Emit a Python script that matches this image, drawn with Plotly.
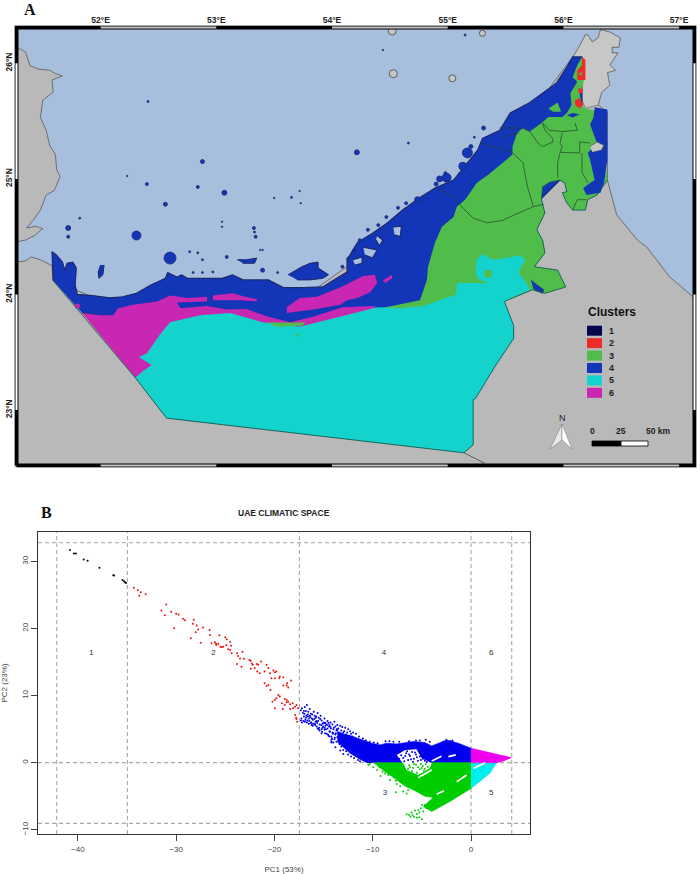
import plotly.graph_objects as go

W, H = 700, 874

# ---------- panel A: geography (lon / lat) ----------
COL = {"sea": "#a7bedc", "land": "#b9b9b9", "mount": "#c7c7c7", "c1": "#05054d", "c2": "#ee2b2b",
       "c3": "#50bd4b", "c4": "#1335b7", "c5": "#13d3cc", "c6": "#c927b1", "coast": "#1b2a6e"}

west_lon = [51.27,51.35,51.39,51.46,51.56,51.61,51.67,51.58,51.59,51.50,51.48,51.53,51.56,51.61,51.62,51.65,51.60,51.53,51.48,51.42,51.36,51.44,51.50,51.43,51.35,51.27]
west_lat = [26.14,26.10,25.98,25.95,25.94,25.91,25.89,25.856,25.75,25.68,25.53,25.42,25.29,25.21,25.08,25.02,24.90,24.86,24.73,24.645,24.575,24.59,24.57,24.51,24.47,24.455]

main_lon = [51.27,51.35,51.40,51.48,51.58,51.59,52.0,52.86,53.72,54.76,55.62,56.08,56.12,56.19,56.21,56.25,56.30,56.32,56.40,56.49,56.48,56.42,56.42,56.47,56.40,56.45,56.38,56.40,56.33,56.30,56.38,56.38,56.46,56.64,56.72,56.92,57.12,57.133,57.133,51.27]
main_lat = [24.28,24.29,24.325,24.30,24.25,24.12,23.95,23.95,23.95,24.69,25.44,26.055,26.115,26.245,26.245,26.185,26.22,26.29,26.27,26.22,26.14,26.14,26.09,26.09,25.985,25.94,25.92,25.81,25.75,25.64,25.58,24.99,24.69,24.47,24.41,24.15,23.98,23.96,22.52,22.52]

mus_lon = [56.08,56.12,56.19,56.21,56.25,56.30,56.32,56.40,56.49,56.48,56.42,56.42,56.47,56.40,56.45,56.38,56.40,56.33,56.30,56.19,56.14,56.16]
mus_lat = [26.055,26.115,26.245,26.245,26.185,26.22,26.29,26.27,26.22,26.14,26.14,26.09,26.09,25.985,25.94,25.92,25.81,25.75,25.64,25.61,25.73,26.0]

blue_lon = [51.59,51.58,51.62,51.67,51.69,51.71,51.76,51.79,51.78,51.80,51.93,52.08,52.19,52.31,52.43,52.56,52.58,52.66,52.70,52.75,52.92,53.05,53.14,53.23,53.45,53.58,53.75,53.92,54.04,54.13,54.13,54.22,54.35,54.48,54.61,54.76,54.89,55.05,55.26,55.30,55.45,55.54,55.71,55.78,55.94,56.03,56.08,56.16,56.16,55.97,54.85,52.86,51.84]
blue_lat = [24.12,24.37,24.34,24.28,24.21,24.27,24.28,24.23,24.08,24.0,23.99,23.97,23.98,24.01,24.08,24.14,24.19,24.15,24.17,24.14,24.14,24.14,24.17,24.126,24.126,24.06,24.06,24.065,24.14,24.195,24.30,24.45,24.53,24.62,24.73,24.84,24.92,24.99,25.25,25.35,25.42,25.57,25.66,25.71,25.83,25.97,26.055,26.055,25.60,24.99,23.87,23.69,23.84]

green_lon = [54.39,54.76,54.82,54.83,54.89,54.95,55.05,55.08,55.15,55.25,55.35,55.48,55.56,55.56,55.60,55.65,55.71,55.81,55.87,55.99,56.03,56.07,56.06,56.12,56.08,56.12,56.16,56.19,56.17,56.14,56.16,56.19,56.32,56.38,56.29,56.21,56.19,56.08,56.03,55.99,56.03,56.01,55.97,55.88,55.82,55.81,55.84,55.77,55.82,55.84,55.75,55.95,56.02,55.84,55.73,55.49,55.02,54.39]
green_lat = [23.875,23.95,24.126,24.24,24.45,24.585,24.67,24.76,24.82,24.965,25.035,25.14,25.21,25.28,25.40,25.44,25.41,25.484,25.535,25.535,25.57,25.64,25.74,25.84,25.88,25.985,26.05,25.96,25.81,25.73,25.64,25.61,25.58,24.99,24.86,24.82,24.73,24.73,24.79,24.88,24.89,24.965,24.99,24.97,24.93,24.82,24.705,24.56,24.47,24.36,24.24,24.21,24.065,24.01,24.04,23.94,23.78,23.78]

cyan_lon = [52.30,52.57,55.14,55.22,55.22,55.24,55.41,55.57,55.57,55.49,55.71,55.68,55.61,55.67,55.62,55.51,55.39,55.30,55.25,55.24,55.26,55.35,55.22,55.08,55.07,54.93,54.79,54.59,54.39,54.16,53.87,53.72,53.40,53.12,52.86,52.60,52.51,52.45,52.40,52.33,52.44,52.37]
cyan_lat = [23.28,22.93,22.63,22.70,23.09,23.10,23.38,23.62,23.73,23.94,24.04,24.10,24.19,24.30,24.34,24.315,24.30,24.35,24.30,24.19,24.135,24.10,24.10,24.10,24.0,23.95,23.90,23.88,23.89,23.83,23.76,23.72,23.76,23.84,23.82,23.76,23.65,23.56,23.49,23.46,23.39,23.34]

mag_main_lon = [51.84,52.0,52.11,52.15,52.28,52.49,52.60,52.75,52.92,52.92,52.66,52.69,52.92,53.09,53.26,53.44,53.64,53.84,54.09,54.37,54.37,52.86,52.30]
mag_main_lat = [23.84,23.82,23.82,23.88,23.91,23.94,23.99,23.97,23.98,23.94,23.93,23.88,23.90,23.87,23.875,23.81,23.76,23.81,23.89,23.90,23.78,23.56,23.28]
mag_band_lon = [53.61,53.72,53.87,54.07,54.27,54.37,54.39,54.33,54.22,54.13,54.07,53.84,53.61]
mag_band_lat = [23.89,23.97,23.98,24.06,24.16,24.17,24.10,24.02,23.97,23.95,23.91,23.87,23.84]
mag_strip_lon = [52.97,53.14,53.25,53.35,53.35,53.20,52.97]
mag_strip_lat = [23.99,24.01,23.98,23.96,23.94,23.95,23.95]
mag_spot_lon = [54.44,54.52,54.52,54.46]
mag_spot_lat = [24.12,24.17,24.14,24.10]

red1_lon = [56.16,56.19,56.19,56.12,56.12,56.16]
red1_lat = [26.055,26.03,25.856,25.856,25.94,25.98]
red2_lon = [56.13,56.17,56.16,56.13]
red2_lat = [25.79,25.77,25.74,25.74]
red3_lon = [56.10,56.14,56.17,56.14,56.10]
red3_lat = [25.68,25.70,25.64,25.61,25.64]

east_lon = [56.27,56.38,56.38,56.38,56.35,56.32,56.20,56.17,56.23,56.27,56.23,56.21,56.29,56.26,56.23,56.26]
east_lat = [25.62,25.60,25.40,25.165,24.965,24.88,24.86,24.92,24.965,24.99,25.165,25.225,25.31,25.40,25.47,25.53]
notch_lon = [56.03,56.08,56.14,56.08]
notch_lat = [25.55,25.57,25.56,25.53]
hatta_lon = [55.72,55.75,55.83,55.82,55.74]
hatta_lat = [24.126,24.10,24.04,24.01,24.05]
gpatch_lon = [55.87,55.95,55.98,55.91]
gpatch_lat = [25.61,25.66,25.58,25.58]
gsouth_lon = [53.44,53.52,53.74,53.77,53.65]
gsouth_lat = [23.76,23.72,23.73,23.76,23.755]
encl_lon = [56.23,56.29,56.35,56.33,56.25]
encl_lat = [25.28,25.32,25.29,25.25,25.23]

lagoon_lons = [[54.27,54.39,54.35,54.285],[54.18,54.26,54.26,54.2],[54.39,54.44,54.41,54.38],[54.53,54.60,54.59,54.54]]
lagoon_lats = [[24.41,24.385,24.315,24.34],[24.30,24.325,24.27,24.255],[24.51,24.47,24.42,24.47],[24.585,24.59,24.50,24.515]]
island_lons = [[53.62,53.74,53.81,53.88,53.88,53.97,53.92,53.81,53.70],[53.18,53.26,53.35,53.33,53.23],[52.03,52.02,51.985,51.98,52.0]]
island_lats = [[24.17,24.24,24.27,24.28,24.23,24.17,24.14,24.126,24.126],[24.30,24.30,24.315,24.27,24.27],[24.255,24.17,24.14,24.195,24.255]]

isle_lon = [52.88,52.84,53.07,52.40,52.56,51.72,51.72,52.31,52.60,51.82,52.23,53.65,53.50,53.72,53.73,53.05,53.05,53.325,53.34,53.33,54.215,55.23,54.66,55.17,55.13,54.99,54.93,54.90,54.74,52.77,52.84,53.09,52.88,53.40,51.99,53.38,53.40,53.53,52.41,55.15,54.44,52.80,52.88,52.97,54.09,54.14,54.19,54.24,54.31,54.40,54.47,54.57,54.64,54.98,55.20,55.31]
isle_lat = [25.15,24.93,24.88,24.955,24.78,24.575,24.50,24.51,24.315,24.66,25.025,24.84,24.835,24.895,24.79,24.63,24.585,24.575,24.50,24.54,25.23,25.36,25.31,25.225,25.11,25.01,25.0,24.955,24.82,24.37,24.36,24.325,24.30,24.21,24.195,24.385,24.385,24.19,25.67,26.245,26.115,24.19,24.19,24.195,24.24,24.31,24.38,24.47,24.56,24.60,24.67,24.75,24.79,25.05,25.28,25.44]
isle_size = [4,3,5,3,4,5,3,9,12,2,1.5,2,1.5,1.5,1.5,1.5,1.5,3,3,2,5,2,2,10,8,9,6,4,6,2,2,3,2,4,2,1.5,1.5,2,2,2,1.5,2,2,2,3,3,3,3,3,3,3,3,3,3,4,4]
grey_isle_lon = [54.52,55.30,54.53,55.04]
grey_isle_lat = [26.28,26.26,25.91,25.87]
grey_isle_size = [8,6,8,7]

border_lon = [51.59,52.30,52.57,55.14,55.22,55.22,55.24,55.41,55.57,55.57,55.49,55.73,55.84,56.02,55.95,55.75,55.84,55.82,55.77,55.84,55.81,55.82,55.88,55.97,56.01,56.03,55.99,56.03,56.08,56.19,56.21,56.29,56.38]
border_lat = [24.12,23.28,22.93,22.63,22.70,23.09,23.10,23.38,23.62,23.73,23.94,24.04,24.01,24.065,24.21,24.24,24.36,24.47,24.56,24.705,24.82,24.93,24.97,24.99,24.965,24.89,24.88,24.79,24.73,24.73,24.82,24.86,24.99]

emirate_lon = [54.92,55.05,55.12,55.22,55.34,55.47,55.58,55.74,55.83,None,55.555,55.65,55.69,55.74,None,55.28,55.555,None,55.48,55.62,None,55.45,55.64,None,55.64,55.71,55.78,55.82,55.91,55.90,55.84,55.82,None,55.82,55.88,55.99,56.12,56.10,None,55.99,55.97,55.99,55.97,56.14,56.14,56.23,None,55.97,55.95,55.95,None,56.16,56.16,56.21,None,56.08,56.12,56.20,None,55.14,55.32]
emirate_lat = [24.92,24.84,24.76,24.66,24.62,24.64,24.69,24.76,24.78,None,25.23,25.14,24.93,24.76,None,25.31,25.23,None,25.36,25.40,None,25.44,25.44,None,25.44,25.41,25.31,25.28,25.32,25.36,25.42,25.484,None,25.484,25.42,25.41,25.42,25.484,None,25.40,25.31,25.28,25.23,25.225,25.32,25.31,None,25.225,25.14,25.01,None,25.225,25.06,24.965,None,24.73,24.82,24.82,None,22.63,22.54]

lon_ticks = [52, 53, 54, 55, 56, 57]
lat_ticks = [23, 24, 25, 26]
lon_labels = ["52°E", "53°E", "54°E", "55°E", "56°E", "57°E"]
lat_labels = ["23°N", "24°N", "25°N", "26°N"]

cluster_names = ["1", "2", "3", "4", "5", "6"]
cluster_colors = [COL["c1"], COL["c2"], COL["c3"], COL["c4"], COL["c5"], COL["c6"]]

# ---------- panel B: PCA space ----------
black_x = [-40.8,-40.4,-40.2,-39.4,-39.0,-37.8,-36.4,-36.3,-35.45,-35.2,-35.1,-35.3]
black_y = [31.7,31.2,31.2,30.3,30.1,29.05,27.95,27.9,27.25,26.9,26.8,27.05]

red_x = [-34.3,-33.9,-33.6,-33.75,-33.1,-31.5,-31.15,-31.0,-30.5,-30.0,-29.75,-30.2,-29.3,-29.1,-28.5,-28.2,-28.3,-27.9,-27.75,-28.0,-27.25,-27.5,-26.6,-26.55,-26.4,-26.05,-25.95,-25.9,-25.7,-25.5,-25.35,-25.2,-24.9,-25.6,-25.0,-24.85,-24.5,-24.4,-24.7,-24.35,-24.5,-23.8,-23.7,-23.25,-23.5,-23.8,-23.35,-23.1,-22.55,-22.4,-22.3,-22.2,-22.4,-21.8,-21.65,-21.35,-22.0,-21.75,-21.5,-21.0,-20.8,-20.6,-20.45,-20.1,-19.95,-19.8,-20.3,-19.95,-19.45,-19.1,-19.5,-19.1,-18.75,-18.3,-18.7,-18.6,-21.0,-20.6,-20.8,-20.4,-19.6,-19.8,-19.95,-19.45,-18.95,-18.75,-18.6,-18.4,-18.15,-17.9,-17.75,-19.25,-18.95,-18.75,-19.95,-19.15,-18.4,-18.1,-17.8,-17.9,-17.6,-17.7,-17.75,-20.2]
red_y = [26.1,25.7,25.4,24.9,25.1,22.7,22.0,23.6,22.5,22.2,22.1,20.05,21.45,21.25,18.55,21.3,20.7,20.45,19.85,19.45,20.15,17.9,19.8,19.05,17.8,17.95,17.75,17.55,17.7,17.3,17.2,17.3,17.5,19.0,18.7,18.4,18.05,17.45,16.9,16.3,16.8,16.3,15.9,16.55,15.55,14.7,14.3,15.5,15.3,15.2,14.8,14.6,14.0,14.7,14.6,15.1,14.1,13.6,13.35,13.6,14.6,14.1,13.35,13.75,13.5,13.6,12.6,12.6,12.85,12.75,12.6,11.5,11.5,12.25,11.85,11.2,11.85,11.6,11.45,10.85,10.1,9.6,9.35,9.85,9.5,9.35,9.1,8.7,8.85,8.35,8.6,8.85,8.6,9.0,8.1,8.0,8.0,8.1,6.7,7.1,8.1,6.1,6.5,9.1]

blue_pt_x = [-17.3,-17.2,-17.1,-17.0,-17.3,-17.2,-16.9,-16.8,-16.7,-16.6,-16.9,-16.7,-16.5,-16.4,-16.3,-16.5,-16.3,-16.1,-16.0,-15.9,-16.1,-15.9,-15.7,-15.6,-15.5,-15.7,-15.4,-15.3,-15.2,-15.4,-15.1,-15.0,-14.9,-14.9,-14.8,-14.7,-14.6,-14.6,-14.5,-14.4,-14.3,-14.3,-14.2,-14.1,-14.1,-14.0,-13.9,-13.9,-13.8,-13.8,-13.7,-13.7,-13.6,-13.6,-13.5,-13.5,-13.4,-13.4,-13.3,-13.3,-13.2,-13.2,-13.1,-13.1,-13.0,-13.0,-12.8,-12.5,-12.3,-12.0,-11.7,-11.4,-11.0,-10.7,-10.3,-9.9,-9.5,-8.7,-8.3,-7.9,-7.3,-6.3,-5.6,-5.2,-4.6,-4.2,-2.5,-1.9,-13.3,-13.0,-12.5,-12.2,-11.9,-11.5,-11.3,-14.2,-13.8,-13.0,-12.7,-12.9,-12.7,-12.6,-12.4,-12.2,-12.1,-16.6,-16.2,-15.8,-15.1,-14.4,-14.0,-13.6,-13.2,-15.6,-15.2,-14.8,-14.5,-14.2,
             -17.25,-17.05,-16.95,-16.85,-16.75,-16.65,-16.55,-16.45,-16.35,-16.25,-16.15,-16.05,-15.95,-15.85,-15.75,-15.65,-15.55,-15.45,-15.35,-15.25,-15.15,-15.05,-14.95,-14.85,-14.75,-14.65,-14.55,-14.45,-14.35,-14.25,-14.15,-14.05,-13.95,-13.85,-13.75,-13.65,-17.0,-16.8,-16.4,-16.2,-15.8,-15.5,-15.2,-14.9,-14.7,-14.4,-14.2,-14.0]
blue_pt_y = [7.8,8.1,7.4,6.9,6.3,6.0,8.3,7.7,8.6,7.2,6.1,6.0,6.6,8.0,7.3,5.8,5.9,6.4,7.6,7.0,5.5,5.8,6.2,7.4,6.7,5.4,5.7,7.0,6.3,4.8,5.2,6.0,6.6,4.9,5.5,4.3,6.2,5.1,5.9,4.7,6.0,5.3,3.9,4.5,5.7,5.0,3.5,6.1,4.2,5.4,4.8,3.1,5.6,3.8,4.4,5.1,2.8,3.5,5.5,4.1,4.8,2.4,3.2,5.3,4.5,3.8,5.2,5.0,4.7,4.5,4.3,3.9,3.6,3.3,3.1,3.0,2.9,3.2,3.2,3.1,3.1,3.2,3.3,3.3,3.4,3.1,3.4,3.3,1.8,1.3,1.2,0.9,0.7,0.4,0.2,3.0,2.3,1.9,1.7,4.7,4.2,4.5,4.0,4.3,3.9,6.9,6.6,6.1,5.8,5.6,4.4,4.9,4.1,5.1,4.4,5.9,4.0,3.4,
             6.6,6.2,7.3,6.4,7.0,6.3,7.6,6.2,6.8,6.0,7.2,5.8,6.5,5.6,6.9,5.9,6.2,5.2,6.5,5.6,4.6,5.4,5.9,4.4,5.0,5.6,4.2,5.4,4.6,5.1,3.6,4.3,5.2,3.7,4.4,5.0,7.7,6.7,7.0,5.6,6.7,5.0,5.0,5.2,5.7,3.9,3.1,3.0]

green_pt_x = [-6.55,-6.3,-6.05,-5.8,-5.5,-5.25,-5.0,-5.35,-5.1,-4.85,-5.7,-4.7,-4.5,-5.0,-4.35,-4.2,-5.25,-5.95,-5.5,-6.15,-10.45,-9.95,-9.55,-9.2,-8.75,-8.25,-7.65,-7.55,-6.9,-6.55,-6.4,-7.65,-10.3,-9.0,-8.4,-7.9,-9.3,-7.2]
green_pt_y = [-7.7,-7.8,-7.45,-8.05,-7.65,-8.15,-8.45,-7.05,-6.8,-7.3,-7.15,-6.3,-6.8,-6.3,-6.15,-6.55,-7.45,-7.8,-8.2,-8.05,-0.35,-0.7,-1.1,-2.0,-1.6,-2.6,-2.7,-3.2,-4.3,-4.6,-4.1,-4.4,-0.2,-1.35,-1.85,-2.1,-0.7,-3.5]

core_blue_x = [-13.6,-13,-12,-11.1,-10.1,-9.25,-8.6,-7.55,-6.7,-5.85,-4.7,-4.0,-3.3,-2.65,-2.15,-1.1,0,0,-10.6,-11.3,-12.3,-13,-13.6]
core_blue_y = [4.7,4.3,3.9,3.4,2.9,2.65,2.9,2.8,3.0,3.15,3.0,2.5,2.9,3.3,3.3,2.8,2.15,0,0,0.5,1.4,2.3,3.1]
core_green_x = [-9.95,0,0,-2.15,-4.0,-4.85,-3.85,-4.7,-5.55,-6.7,-7.9,-8.9]
core_green_y = [0,0,-3.85,-5.8,-7.3,-6.55,-5.2,-5.0,-4.3,-3.5,-2.2,-1.2]
core_cyan_x = [0,2.6,1.9,0.9,0]
core_cyan_y = [0,0,-1.6,-2.85,-3.85]
core_mag_x = [0,1.4,2.8,4.1,3.3,2.6,0]
core_mag_y = [2.15,1.65,1.15,0.75,0.25,0,0]
hole_x = [-7.55,-6.7,-5.55,-5.0,-4.0,-4.2,-5.35,-6.55,-6.9,-7.2]
hole_y = [1.15,1.9,2.0,0.65,-0.1,-0.85,-1.85,-1.1,-0.1,0.4]
slit_x = [-4.0,-3.0,None,-2.3,-1.55,None,-5.35,-4.0,None,-1.45,-0.45,None,-3.5,-2.75,None,0.25,1.45]
slit_y = [0.25,0.95,None,0.9,1.15,None,-2.2,-1.1,None,-2.85,-1.85,None,-4.7,-4.2,None,-0.85,0]
hole_blue_x = [-7.1,-6.9,-6.6,-6.4,-6.2,-6.0,-5.8,-5.6,-5.4,-6.8,-5.9,-5.2,-4.7,-7.3,-6.5,-6.3,-6.1,-5.7,-5.5,-5.3,-6.7,-5.1,-4.9,-4.5]
hole_blue_y = [1.1,0.7,1.4,0.4,1.0,1.6,0.6,1.2,0.3,0.2,0.1,0.9,0.3,0.6,1.7,1.2,0.5,1.5,0.8,1.7,1.0,0.4,0.6,0.1]
hole_green_x = [-6.3,-5.9,-5.6,-5.2,-4.9,-4.6,-6.0,-5.5,-4.8,-6.4,-4.4,-5.1,-6.2,-5.8,-5.4,-5.0,-4.7]
hole_green_y = [-0.4,-0.8,-0.3,-1.0,-0.5,-0.2,-1.3,-1.5,-1.2,-0.9,-0.6,-0.2,-0.7,-0.2,-0.7,-0.8,-0.9]

split_x = [-42.15, -34.96, -17.46, 0, 4.14]
split_y = [32.8, 0, -9.05]
region_x = [-38.6, -26.2, -8.75, -8.85, 2.05, 2.05]
region_y = [16.3, 16.3, -4.5, 16.4, -4.5, 16.4]
region_names = ["1", "2", "3", "4", "5", "6"]
pc_x_ticks = [-40, -30, -20, -10, 0]
pc_y_ticks = [-10, 0, 10, 20, 30]

# ---------- layout helpers (page pixels to paper) ----------
def px(x): return x / W
def py(y): return 1 - y / H

LON0, LON1 = 51.256, 57.150
LAT0, LAT1 = 22.503, 26.327
FW, FE, FS, FN = 51.2733, 57.1327, 22.5203, 26.3097

fig = go.Figure()
A = dict(xaxis="x", yaxis="y", showlegend=False, hoverinfo="skip")
B = dict(xaxis="x2", yaxis="y2", showlegend=False, hoverinfo="skip")

def poly(lon, lat, color, line=None, lw=0.8):
    fig.add_trace(go.Scatter(x=lon, y=lat, mode="lines", fill="toself", fillcolor=color,
                             line=dict(color=line or color, width=lw if line else 0), **A))

poly(west_lon, west_lat, COL["land"], "#5a5a5a", 0.8)
poly(main_lon, main_lat, COL["land"], "#5a5a5a", 0.8)
poly(mus_lon, mus_lat, COL["mount"], "#6a6a6a", 0.7)
poly(blue_lon, blue_lat, COL["c4"], COL["coast"], 1.2)
poly(green_lon, green_lat, COL["c3"])
poly(mag_main_lon, mag_main_lat, COL["c6"])
poly(cyan_lon, cyan_lat, COL["c5"])
poly(mag_band_lon, mag_band_lat, COL["c6"])
poly(mag_strip_lon, mag_strip_lat, COL["c6"])
poly(mag_spot_lon, mag_spot_lat, COL["c6"])
poly(gsouth_lon, gsouth_lat, COL["c3"])
poly(east_lon, east_lat, COL["c4"])
poly(notch_lon, notch_lat, COL["c4"])
poly(hatta_lon, hatta_lat, COL["c4"], COL["coast"], 0.6)
poly(gpatch_lon, gpatch_lat, COL["c3"])
poly(red1_lon, red1_lat, COL["c2"])
poly(red2_lon, red2_lat, COL["c2"])
poly(red3_lon, red3_lat, COL["c2"])
poly(encl_lon, encl_lat, COL["mount"], "#444444", 0.6)
for lo, la in zip(lagoon_lons, lagoon_lats):
    poly(lo, la, COL["sea"], COL["coast"], 1.2)
for lo, la in zip(island_lons, island_lats):
    poly(lo, la, COL["c4"], COL["coast"], 1.0)
fig.add_trace(go.Scatter(x=isle_lon, y=isle_lat, mode="markers",
                         marker=dict(size=isle_size, sizemode="diameter", opacity=1, color=COL["c4"],
                                     line=dict(color=COL["coast"], width=0.8)), **A))
fig.add_trace(go.Scatter(x=grey_isle_lon, y=grey_isle_lat, mode="markers",
                         marker=dict(size=grey_isle_size, opacity=1, color=COL["mount"],
                                     line=dict(color="#444444", width=0.8)), **A))
fig.add_trace(go.Scatter(x=[55.35, 53.70, 51.80, 56.15], y=[24.18, 23.65, 23.90, 25.91], mode="markers",
                         marker=dict(size=[8, 3, 5, 3], opacity=1, color=[COL["c3"], COL["c3"], COL["c6"], COL["c3"]],
                                     line=dict(width=0)), **A))
fig.add_trace(go.Scatter(x=emirate_lon, y=emirate_lat, mode="lines", line=dict(color="#24402a", width=0.7), **A))
fig.add_trace(go.Scatter(x=border_lon, y=border_lat, mode="lines", line=dict(color="#0c5a50", width=0.9), **A))

# graticule neatline
fig.add_trace(go.Scatter(x=[FW, FE, FE, FW, FW], y=[FS, FS, FN, FN, FS], mode="lines",
                         line=dict(color="black", width=4), **A))
top_x, top_y, bot_y, side_x, side_y = [], [], [], [], []
for a, b in [(52, 53), (54, 55), (56, 57)]:
    top_x += [a, b, None]; top_y += [FN, FN, None]; bot_y += [FS, FS, None]
for a, b in [(25, 26), (23, 24)]:
    side_y += [a, b, None]
fig.add_trace(go.Scatter(x=top_x, y=top_y, mode="lines", line=dict(color="#c4c4c4", width=2), **A))
fig.add_trace(go.Scatter(x=top_x, y=bot_y, mode="lines", line=dict(color="#c4c4c4", width=2), **A))
fig.add_trace(go.Scatter(x=[FW if v is not None else None for v in side_y], y=side_y, mode="lines",
                         line=dict(color="white", width=2), **A))
fig.add_trace(go.Scatter(x=[FE if v is not None else None for v in side_y], y=side_y, mode="lines",
                         line=dict(color="white", width=2), **A))

# ---- panel B traces ----
def core(x, y, color):
    fig.add_trace(go.Scatter(x=x, y=y, mode="lines", fill="toself", fillcolor=color,
                             line=dict(color=color, width=0.6), **B))
core(core_blue_x, core_blue_y, "#0000ee")
core(core_green_x, core_green_y, "#00cd00")
core(core_cyan_x, core_cyan_y, "#00eeee")
core(core_mag_x, core_mag_y, "#ee00ee")
fig.add_trace(go.Scatter(x=hole_x, y=hole_y, mode="lines", fill="toself", fillcolor="white",
                         line=dict(color="white", width=0), **B))
fig.add_trace(go.Scatter(x=slit_x, y=slit_y, mode="lines", line=dict(color="white", width=1.7), **B))

def pts(x, y, color):
    fig.add_trace(go.Scatter(x=x, y=y, mode="markers",
                             marker=dict(size=2, color=color, line=dict(width=0)), **B))
pts(black_x, black_y, "#000000")
pts(red_x, red_y, "#f01010")
pts(blue_pt_x, blue_pt_y, "#0000ee")
pts(green_pt_x, green_pt_y, "#00cd00")
pts(hole_blue_x, hole_blue_y, "#0000ee")
pts(hole_green_x, hole_green_y, "#00cd00")
fig.add_trace(go.Scatter(x=region_x, y=region_y, mode="text", text=region_names,
                         textfont=dict(family="Liberation Sans", size=8, color="#333333"), **B))

shapes = []
DASH = dict(color="#a8a8a8", width=1.1, dash="4px,3px")
for v in split_x:
    shapes.append(dict(type="line", xref="x2", yref="y2 domain", x0=v, x1=v, y0=0, y1=1, line=DASH, layer="below"))
for v in split_y:
    shapes.append(dict(type="line", xref="x2 domain", yref="y2", x0=0, x1=1, y0=v, y1=v, line=DASH, layer="below"))

# map legend, north arrow, scale bar
ann = []
def text(x, y, s, size, color="#222222", anchor="center", family="Liberation Sans", angle=0):
    ann.append(dict(x=px(x), y=py(y), xref="paper", yref="paper", text=s, showarrow=False, xanchor=anchor,
                    yanchor="middle", textangle=angle, font=dict(family=family, size=size, color=color)))
text(612, 312, "<b>Clusters</b>", 12, "#111111")
for i, (n, c) in enumerate(zip(cluster_names, cluster_colors)):
    y0 = 325.7 + i * 12.43
    shapes.append(dict(type="rect", xref="paper", yref="paper", x0=px(587), x1=px(602), y0=py(y0), y1=py(y0 + 10),
                       fillcolor=c, line=dict(width=0)))
    text(607, y0 + 5, "<b>%s</b>" % n, 9, "#222222", "left")
text(562, 418, "N", 9, "#222222")
shapes.append(dict(type="path", xref="paper", yref="paper",
                   path="M %f %f L %f %f L %f %f Z" % (px(562), py(424), px(550), py(449), px(562), py(440)),
                   fillcolor="#e8e8e8", line=dict(color="#777777", width=0.5)))
shapes.append(dict(type="path", xref="paper", yref="paper",
                   path="M %f %f L %f %f L %f %f Z" % (px(562), py(424), px(572), py(449), px(562), py(440)),
                   fillcolor="#ffffff", line=dict(color="#777777", width=0.5)))
shapes.append(dict(type="rect", xref="paper", yref="paper", x0=px(592), x1=px(621), y0=py(441), y1=py(446),
                   fillcolor="black", line=dict(color="black", width=0.8)))
shapes.append(dict(type="rect", xref="paper", yref="paper", x0=px(621), x1=px(648), y0=py(441), y1=py(446),
                   fillcolor="white", line=dict(color="black", width=0.8)))
text(592, 431, "<b>0</b>", 8.5)
text(621, 431, "<b>25</b>", 8.5)
text(644, 431, "<b>50 km</b>", 8.5, anchor="left")
text(30, 9, "<b>A</b>", 16, "#111111", family="Liberation Serif")
text(46, 512, "<b>B</b>", 16, "#111111", family="Liberation Serif")
text(284, 513, "<b>UAE CLIMATIC SPACE</b>", 8.5, "#222222")

map_font = dict(family="Liberation Sans", size=8.5, color="#222222", weight="bold")
pc_font = dict(family="Liberation Sans", size=8, color="#444444")
frame2 = dict(showline=True, linecolor="#333333", linewidth=1.3, mirror=True, showgrid=False, zeroline=False,
              ticks="outside", ticklen=6, tickwidth=1, tickcolor="#444444", tickfont=pc_font)

fig.update_layout(
    width=W, height=H, margin=dict(l=0, r=0, t=0, b=0), paper_bgcolor="white", plot_bgcolor="white",
    showlegend=False, shapes=shapes, annotations=ann,
    xaxis=dict(domain=[px(14.5), px(696.5)], range=[LON0, LON1], side="top", anchor="y",
               tickvals=lon_ticks, ticktext=lon_labels, tickfont=map_font, ticks="", showgrid=False,
               zeroline=False, showline=False, ticklabelstandoff=0),
    yaxis=dict(domain=[py(467.5), py(25.5)], range=[LAT0, LAT1], anchor="x",
               tickvals=lat_ticks, ticktext=lat_labels, tickfont=map_font, ticks="", tickangle=-90,
               showgrid=False, zeroline=False, showline=False),
    xaxis2=dict(domain=[px(38), px(530)], range=[-44.05, 6.0], anchor="y2", tickvals=pc_x_ticks,
                ticklabelstandoff=1, title=dict(text="PC1 (53%)", font=pc_font, standoff=14), **frame2),
    yaxis2=dict(domain=[py(834), py(532)], range=[-10.64, 34.4], anchor="x2", tickvals=pc_y_ticks, tickangle=-90,
                title=dict(text="PC2 (23%)", font=pc_font, standoff=11), **frame2),
)
# sea colour only inside the map panel
fig.add_shape(type="rect", xref="x domain", yref="y domain", x0=0, x1=1, y0=0, y1=1,
              fillcolor=COL["sea"], line=dict(width=0), layer="below")

fig.write_html("out.html", config={"displayModeBar": False}, post_script="document.body.style.margin='0';")
